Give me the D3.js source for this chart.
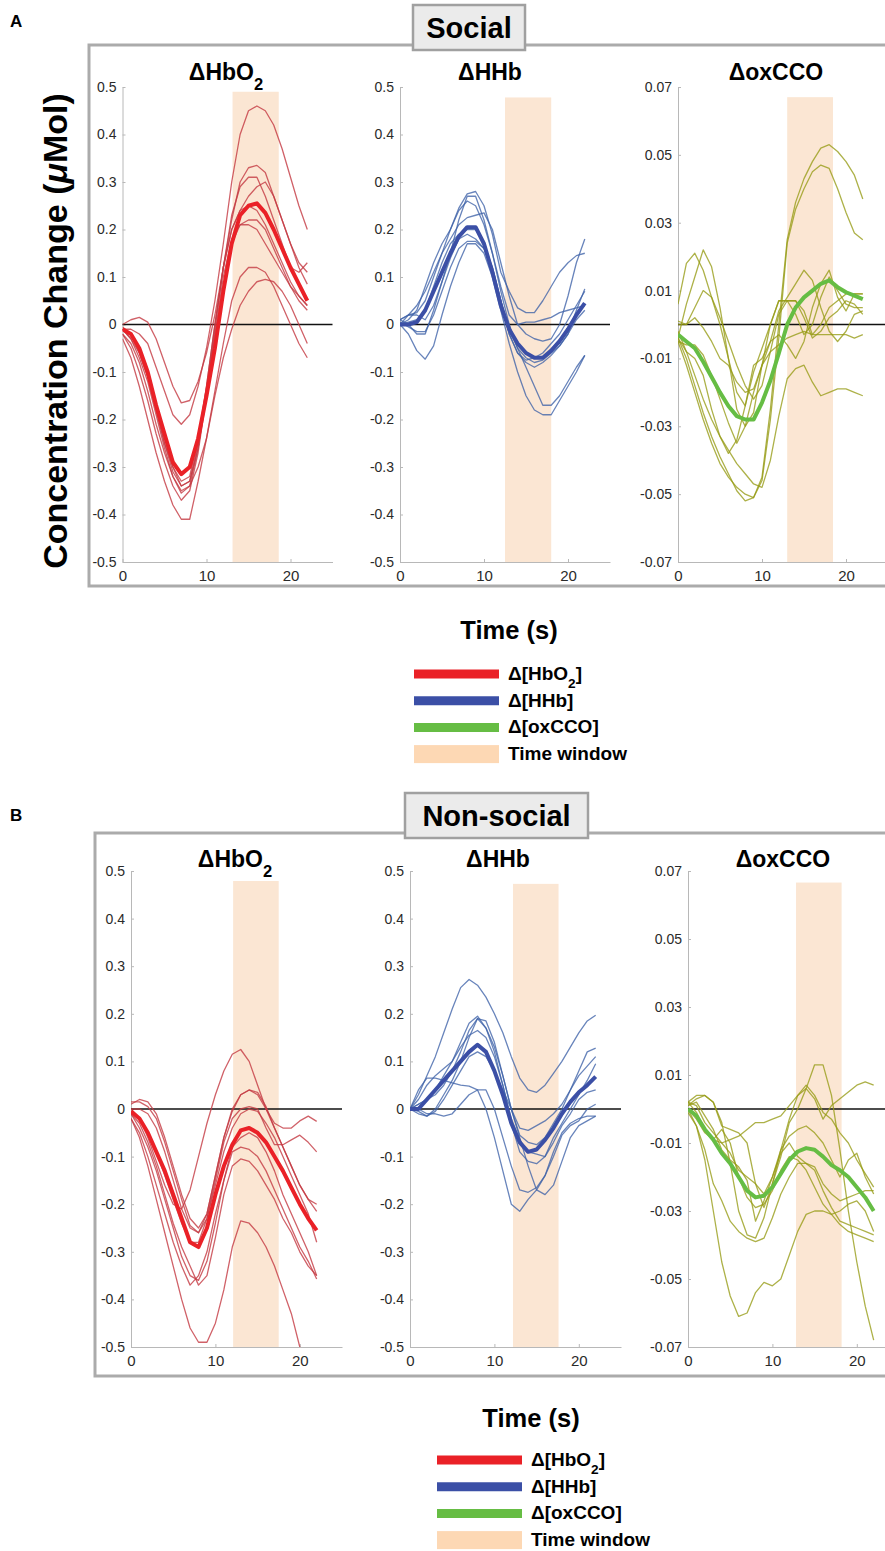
<!DOCTYPE html>
<html>
<head>
<meta charset="utf-8">
<script src="https://cdn.jsdelivr.net/npm/d3@7"></script>
<style>
  body { margin: 0; background: #fff; }
  svg { display: block; font-family: "Liberation Sans", Arial, Helvetica, sans-serif; }
</style>
</head>
<body>
<div id="chart"></div>
<script>
// sample times (s)
const timeSec = [0,1,2,3,4,5,6,7,8,9,10,11,12,13,14,15,16,17,18,19,20,21,22];
const hbTicks = [-0.5,-0.4,-0.3,-0.2,-0.1,0,0.1,0.2,0.3,0.4,0.5];
const ccoTicks = [-0.07,-0.05,-0.03,-0.01,0.01,0.03,0.05,0.07];
const timeTicks = [0,10,20];
const chromophores = ["HbO2", "HHb", "oxCCO"];

// analysis time windows [start, end, top]
const socialWindows = [[13.1,18.6,0.49],[12.5,18.0,0.478],[13.0,18.45,0.067]];
const nonsocialWindows = [[12.1,17.5,0.479],[12.2,17.6,0.473],[12.8,18.2,0.0666]];

// ---- Social ----
const socialHbO2Mean = [-0.01,-0.02,-0.05,-0.1,-0.17,-0.23,-0.29,-0.315,-0.3,-0.24,-0.15,-0.05,0.07,0.17,0.23,0.25,0.255,0.235,0.2,0.16,0.12,0.085,0.05];
const socialHbO2Subjects = [
  [0,0.01,0.015,0.005,-0.03,-0.08,-0.13,-0.165,-0.16,-0.12,-0.06,0.02,0.12,0.22,0.3,0.33,0.335,0.32,0.27,0.22,0.17,0.13,0.11],
  [-0.01,-0.01,-0.02,-0.04,-0.09,-0.14,-0.19,-0.21,-0.19,-0.13,-0.05,0.05,0.17,0.3,0.4,0.45,0.46,0.45,0.42,0.37,0.31,0.25,0.2],
  [-0.02,-0.04,-0.08,-0.14,-0.21,-0.27,-0.32,-0.35,-0.34,-0.26,-0.14,-0.01,0.12,0.23,0.29,0.31,0.31,0.27,0.22,0.17,0.12,0.11,0.13],
  [-0.01,-0.03,-0.06,-0.11,-0.18,-0.25,-0.31,-0.34,-0.33,-0.25,-0.13,0,0.12,0.2,0.24,0.25,0.24,0.21,0.17,0.13,0.09,0.06,0.04],
  [-0.02,-0.05,-0.1,-0.16,-0.23,-0.29,-0.34,-0.37,-0.35,-0.27,-0.15,-0.02,0.1,0.18,0.21,0.21,0.2,0.17,0.14,0.11,0.08,0.06,0.04],
  [-0.03,-0.07,-0.13,-0.2,-0.27,-0.33,-0.38,-0.41,-0.41,-0.33,-0.24,-0.14,-0.04,0.05,0.1,0.12,0.12,0.11,0.08,0.04,0,-0.04,-0.07],
  [-0.01,-0.03,-0.07,-0.12,-0.19,-0.26,-0.32,-0.355,-0.34,-0.3,-0.24,-0.15,-0.07,-0.01,0.04,0.07,0.09,0.095,0.09,0.07,0.04,0,-0.04],
  [-0.005,-0.02,-0.05,-0.1,-0.17,-0.24,-0.3,-0.33,-0.32,-0.24,-0.13,0,0.12,0.2,0.24,0.27,0.29,0.3,0.27,0.22,0.17,0.12,0.085],
  [-0.01,-0.02,-0.06,-0.11,-0.18,-0.25,-0.3,-0.34,-0.33,-0.26,-0.15,-0.03,0.08,0.17,0.21,0.22,0.22,0.2,0.16,0.12,0.08,0.05,0.03]
];
const socialHHbMean = [0,0,0.005,0.03,0.07,0.11,0.15,0.185,0.205,0.205,0.17,0.11,0.04,-0.01,-0.04,-0.06,-0.07,-0.07,-0.055,-0.035,-0.01,0.02,0.045];
const socialHHbSubjects = [
  [0.01,0.02,0.025,0.05,0.1,0.15,0.2,0.245,0.275,0.28,0.25,0.19,0.11,0.07,0.035,0.025,0.025,0.05,0.08,0.11,0.13,0.145,0.15],
  [0,0.02,0.04,0.07,0.11,0.15,0.18,0.21,0.225,0.23,0.235,0.2,0.13,0.06,0,-0.02,-0.03,-0.035,-0.03,0,0.06,0.13,0.18],
  [0.01,0,-0.02,-0.02,0.03,0.09,0.15,0.22,0.27,0.27,0.22,0.15,0.07,0,-0.05,-0.09,-0.13,-0.17,-0.17,-0.15,-0.12,-0.09,-0.065],
  [0,-0.02,-0.055,-0.073,-0.045,0.02,0.08,0.13,0.17,0.17,0.15,0.1,0.03,-0.04,-0.1,-0.15,-0.18,-0.19,-0.19,-0.16,-0.13,-0.1,-0.065],
  [0.01,0.02,0.02,0.01,0.04,0.09,0.14,0.18,0.19,0.18,0.16,0.11,0.05,-0.01,-0.05,-0.07,-0.08,-0.075,-0.06,-0.045,-0.02,0.03,0.075],
  [0,0.005,0.01,0.03,0.08,0.13,0.17,0.19,0.2,0.2,0.17,0.12,0.05,-0.02,-0.06,-0.08,-0.09,-0.08,-0.065,-0.045,-0.02,0.01,0.03],
  [0,0.01,0.03,0.08,0.13,0.17,0.2,0.24,0.26,0.25,0.21,0.15,0.08,0.02,0,0.005,0.005,0.01,0.015,0.025,0.03,0.035,0.04],
  [0.005,-0.005,-0.015,-0.015,0.02,0.07,0.12,0.16,0.175,0.175,0.16,0.12,0.05,-0.02,-0.06,-0.075,-0.07,-0.06,-0.04,-0.02,0.01,0.04,0.07]
];
const socialCCOMean = [-0.003,-0.005,-0.007,-0.011,-0.0155,-0.02,-0.024,-0.027,-0.028,-0.028,-0.023,-0.0165,-0.0085,0,0.005,0.008,0.01,0.012,0.013,0.011,0.0095,0.0085,0.0075];
const socialCCOSubjects = [
  [-0.004,-0.01,-0.018,-0.026,-0.033,-0.039,-0.044,-0.049,-0.052,-0.051,-0.045,-0.025,0,0.025,0.036,0.043,0.048,0.052,0.053,0.051,0.048,0.044,0.037],
  [-0.005,-0.012,-0.02,-0.028,-0.035,-0.041,-0.045,-0.048,-0.05,-0.051,-0.046,-0.028,-0.004,0.024,0.034,0.04,0.045,0.047,0.046,0.04,0.033,0.027,0.025],
  [0.006,0.018,0.021,0.016,0.008,0.002,-0.005,-0.012,-0.018,-0.022,-0.018,-0.008,0.003,0.007,0.007,0.004,-0.003,0,0.005,0.007,0.009,0.009,0.009],
  [-0.002,-0.008,-0.015,-0.022,-0.028,-0.033,-0.037,-0.041,-0.044,-0.047,-0.048,-0.04,-0.027,-0.016,-0.013,-0.012,-0.017,-0.021,-0.02,-0.019,-0.019,-0.02,-0.021],
  [-0.004,0.006,0.014,0.022,0.017,0.005,-0.01,-0.025,-0.03,-0.026,-0.012,0,0.007,0.007,0.003,-0.003,0,0.008,0.014,0.01,0.006,0.005,0.005],
  [-0.005,-0.006,-0.006,-0.009,-0.015,-0.022,-0.029,-0.035,-0.03,-0.02,-0.012,-0.005,0.004,0.008,0.012,0.016,0.013,0.005,-0.002,-0.005,-0.002,0.003,0.004],
  [0,0,0.002,-0.001,-0.005,-0.01,-0.012,-0.017,-0.02,-0.019,-0.012,-0.008,-0.006,-0.004,-0.003,-0.002,-0.003,-0.003,-0.003,-0.003,-0.003,-0.004,-0.003],
  [-0.004,-0.008,-0.01,-0.015,-0.025,-0.033,-0.038,-0.034,-0.024,-0.012,-0.01,-0.005,-0.003,-0.006,-0.01,-0.005,0.005,0.012,0.016,0.008,0.004,0.009,0.009],
  [0.001,0,0.005,0.01,0.008,0,-0.01,-0.02,-0.024,-0.014,-0.007,0,0.007,0.007,0.007,0.002,-0.004,-0.002,0.002,0.004,0.007,0.006,0.003]
];

// ---- Non-social ----
const nonsocialHbO2Mean = [-0.005,-0.02,-0.05,-0.09,-0.13,-0.18,-0.23,-0.28,-0.29,-0.25,-0.18,-0.12,-0.075,-0.045,-0.04,-0.05,-0.07,-0.1,-0.13,-0.165,-0.2,-0.23,-0.255];
const nonsocialHbO2Subjects = [
  [0,-0.02,-0.06,-0.11,-0.16,-0.2,-0.21,-0.17,-0.1,-0.03,0.03,0.08,0.115,0.125,0.1,0.05,0,-0.03,-0.04,-0.04,-0.025,-0.015,-0.026],
  [0.01,0.02,0.015,-0.01,-0.06,-0.12,-0.18,-0.23,-0.25,-0.22,-0.14,-0.06,0,0.03,0.04,0.035,0.005,-0.04,-0.08,-0.12,-0.16,-0.19,-0.2],
  [0.015,0.015,0.005,-0.02,-0.07,-0.13,-0.19,-0.245,-0.26,-0.22,-0.14,-0.06,-0.005,0.03,0.04,0.03,0,-0.04,-0.08,-0.12,-0.16,-0.19,-0.215],
  [0,0,-0.01,-0.04,-0.09,-0.15,-0.21,-0.25,-0.26,-0.23,-0.15,-0.07,-0.02,0,0.005,0,-0.04,-0.075,-0.075,-0.065,-0.055,-0.07,-0.09],
  [-0.01,-0.04,-0.08,-0.13,-0.19,-0.25,-0.31,-0.35,-0.36,-0.32,-0.24,-0.15,-0.08,-0.06,-0.05,-0.06,-0.09,-0.13,-0.18,-0.22,-0.26,-0.3,-0.35],
  [-0.02,-0.05,-0.1,-0.16,-0.22,-0.28,-0.33,-0.37,-0.35,-0.3,-0.22,-0.15,-0.09,-0.08,-0.085,-0.1,-0.13,-0.17,-0.21,-0.25,-0.29,-0.32,-0.357],
  [-0.02,-0.06,-0.12,-0.19,-0.26,-0.33,-0.4,-0.46,-0.49,-0.49,-0.45,-0.38,-0.29,-0.235,-0.24,-0.26,-0.29,-0.33,-0.38,-0.43,-0.5,null,null],
  [-0.01,-0.03,-0.07,-0.12,-0.18,-0.24,-0.29,-0.33,-0.37,-0.35,-0.27,-0.18,-0.12,-0.105,-0.11,-0.13,-0.16,-0.19,-0.23,-0.26,-0.3,-0.33,-0.35],
  [-0.005,-0.02,-0.05,-0.09,-0.14,-0.19,-0.24,-0.28,-0.28,-0.23,-0.16,-0.09,-0.04,-0.01,0,-0.005,-0.03,-0.06,-0.1,-0.14,-0.18,-0.22,-0.28]
];
const nonsocialHHbMean = [0,0,0.02,0.04,0.06,0.08,0.1,0.12,0.135,0.12,0.08,0.03,-0.03,-0.07,-0.09,-0.085,-0.065,-0.04,-0.01,0.015,0.035,0.05,0.068];
const nonsocialHHbSubjects = [
  [0,0.03,0.07,0.11,0.16,0.21,0.255,0.272,0.26,0.235,0.2,0.16,0.11,0.065,0.04,0.035,0.05,0.075,0.1,0.13,0.16,0.185,0.197],
  [0,-0.005,-0.015,0,0.03,0.06,0.1,0.15,0.19,0.185,0.14,0.07,0,-0.04,-0.045,-0.035,-0.025,-0.01,0.01,0.04,0.07,0.09,0.11],
  [0,0.01,0.02,0.03,0.05,0.08,0.12,0.165,0.19,0.17,0.13,0.07,0,-0.055,-0.07,-0.075,-0.06,-0.03,0,0.04,0.08,0.12,0.128],
  [0,0.04,0.065,0.065,0.06,0.055,0.05,0.048,0.04,0,-0.06,-0.13,-0.2,-0.215,-0.19,-0.17,-0.14,-0.09,-0.05,-0.03,-0.02,-0.015,-0.015],
  [0,-0.01,-0.015,-0.005,0.02,0.05,0.08,0.11,0.12,0.11,0.08,0.04,0,-0.06,-0.12,-0.17,-0.18,-0.16,-0.11,-0.06,-0.035,-0.025,-0.015],
  [0,0,-0.01,-0.01,-0.015,-0.01,0.01,0.03,0.04,0.04,0,-0.06,-0.12,-0.17,-0.175,-0.165,-0.14,-0.1,-0.055,-0.035,-0.025,0,0.01],
  [0,0.02,0.05,0.07,0.085,0.1,0.13,0.155,0.165,0.15,0.11,0.05,-0.02,-0.065,-0.09,-0.095,-0.1,-0.06,-0.03,0,0.03,0.06,0.095],
  [0,0.01,0.02,0.04,0.07,0.1,0.14,0.18,0.195,0.17,0.12,0.05,-0.03,-0.09,-0.11,-0.115,-0.1,-0.07,-0.035,-0.01,0.02,0.035,0.04]
];
const nonsocialCCOMean = [0,-0.002,-0.006,-0.009,-0.013,-0.016,-0.02,-0.024,-0.026,-0.0255,-0.023,-0.019,-0.015,-0.0125,-0.0115,-0.012,-0.014,-0.0165,-0.018,-0.02,-0.023,-0.026,-0.03];
const nonsocialCCOSubjects = [
  [0,-0.005,-0.015,-0.03,-0.045,-0.055,-0.061,-0.06,-0.054,-0.051,-0.052,-0.05,-0.043,-0.036,-0.031,-0.03,-0.03,-0.031,-0.034,-0.036,-0.037,-0.038,-0.039],
  [0.001,0.003,0.004,0.002,-0.004,-0.016,-0.03,-0.037,-0.038,-0.032,-0.022,-0.014,-0.004,0,0.006,0.013,0.013,0.004,-0.012,-0.03,-0.045,-0.058,-0.068],
  [0.002,0.004,0.004,0.002,-0.005,-0.006,-0.007,-0.01,-0.022,-0.029,-0.022,-0.012,-0.003,0.004,0.007,0.004,-0.001,-0.003,-0.007,-0.01,-0.015,-0.019,-0.023],
  [0.002,-0.001,-0.006,-0.009,-0.01,-0.009,-0.008,-0.006,-0.004,-0.004,-0.003,-0.002,0.001,0.004,0.006,0.003,-0.003,0.001,0.003,0.005,0.007,0.008,0.007],
  [0.001,0.002,-0.002,-0.006,-0.012,-0.015,-0.017,-0.021,-0.033,-0.027,-0.02,-0.012,-0.008,-0.006,-0.005,-0.007,-0.01,-0.015,-0.02,-0.015,-0.013,-0.02,-0.025],
  [0,-0.003,-0.007,-0.009,-0.006,-0.01,-0.02,-0.026,-0.029,-0.028,-0.024,-0.018,-0.014,-0.015,-0.018,-0.023,-0.028,-0.031,-0.03,-0.028,-0.027,-0.03,-0.036],
  [-0.001,-0.005,-0.012,-0.022,-0.027,-0.033,-0.036,-0.038,-0.039,-0.038,-0.032,-0.025,-0.02,-0.016,-0.016,-0.018,-0.024,-0.029,-0.033,-0.034,-0.035,-0.036,-0.037],
  [0.002,0.001,-0.004,-0.007,-0.01,-0.013,-0.018,-0.02,-0.022,-0.025,-0.02,-0.013,-0.01,-0.014,-0.016,-0.017,-0.022,-0.025,-0.027,-0.026,-0.025,-0.024,-0.024]
];

const meanColors = ["#ea2127", "#3b4fa6", "#66bd44"];
const thinColors = ["rgba(196,58,66,0.8)", "rgba(62,98,168,0.78)", "rgba(150,155,20,0.78)"];
const windowFill = "#fbe6d3";

const width = 885, height = 1551;
const svg = d3.select("#chart").append("svg")
  .attr("width", width)
  .attr("height", height);

const panels = [
  {
    label: "A", name: "Social", labelY: 27,
    frame: {x: 89, y: 45, bottom: 586},
    box: {x: 413, y: 5, w: 112, h: 45},
    top: 87, bottom: 562, x0: [122.5, 400, 678], plotW: 210,
    titleX: [226, 490, 776], titleY: 80,
    windows: socialWindows,
    means: [socialHbO2Mean, socialHHbMean, socialCCOMean],
    subjects: [socialHbO2Subjects, socialHHbSubjects, socialCCOSubjects],
    timeLabel: {x: 509, y: 639},
    legend: {x: 414, y: 674}
  },
  {
    label: "B", name: "Non-social", labelY: 821,
    frame: {x: 95, y: 833, bottom: 1376},
    box: {x: 405, y: 793, w: 183, h: 45},
    top: 871, bottom: 1347, x0: [131, 410, 688], plotW: 211,
    titleX: [235, 498, 783], titleY: 867,
    windows: nonsocialWindows,
    means: [nonsocialHbO2Mean, nonsocialHHbMean, nonsocialCCOMean],
    subjects: [nonsocialHbO2Subjects, nonsocialHHbSubjects, nonsocialCCOSubjects],
    timeLabel: {x: 531, y: 1427},
    legend: {x: 437, y: 1460}
  }
];

function addChromLabel(textSel, chrom, prefix, suffix) {
  // adds e.g. ΔHbO₂ with a real subscript
  if (chrom === "HbO2") {
    textSel.append("tspan").text(prefix + "HbO");
    textSel.append("tspan").attr("baseline-shift", "sub").attr("font-size", "0.72em").text("2");
    textSel.append("tspan").text(suffix);
  } else {
    textSel.append("tspan").text(prefix + chrom + suffix);
  }
}

panels.forEach((p, pi) => {
  const g = svg.append("g");

  // outer frame
  g.append("path")
    .attr("d", `M${width + 10},${p.frame.y}H${p.frame.x}V${p.frame.bottom}H${width + 10}`)
    .attr("fill", "none")
    .attr("stroke", "#ababab")
    .attr("stroke-width", 3);

  g.append("text")
    .attr("x", 10).attr("y", p.labelY)
    .attr("font-size", 17).attr("font-weight", "bold")
    .text(p.label);

  for (let k = 0; k < 3; k++) {
    const isCCO = k === 2;
    const x = d3.scaleLinear().domain([0, 25]).range([p.x0[k], p.x0[k] + p.plotW]);
    const y = d3.scaleLinear().domain(isCCO ? [-0.07, 0.07] : [-0.5, 0.5]).range([p.bottom, p.top]);
    const sub = g.append("g");

    const clipId = `clip-${pi}-${k}`;
    sub.append("clipPath").attr("id", clipId)
      .append("rect")
      .attr("x", x(0)).attr("y", y.range()[1])
      .attr("width", x(25) - x(0)).attr("height", y.range()[0] - y.range()[1]);

    // time window
    const w = p.windows[k];
    sub.append("rect")
      .attr("x", x(w[0]))
      .attr("y", y(w[2]))
      .attr("width", x(w[1]) - x(w[0]))
      .attr("height", y(y.domain()[0]) - y(w[2]))
      .attr("fill", windowFill);

    // axes
    const yAxis = d3.axisLeft(y)
      .tickValues(isCCO ? ccoTicks : hbTicks)
      .tickSizeInner(-3).tickSizeOuter(0).tickPadding(6)
      .tickFormat(d => d === 0 ? "0" : String(d));
    const xAxis = d3.axisBottom(x)
      .tickValues(timeTicks)
      .tickSizeInner(-3).tickSizeOuter(0).tickPadding(8);

    const ya = sub.append("g").attr("transform", `translate(${x(0)},0)`).call(yAxis);
    const xa = sub.append("g").attr("transform", `translate(0,${y.range()[0]})`).call(xAxis);
    [ya, xa].forEach(a => {
      a.select(".domain").attr("stroke", "#b8b8b8");
      a.selectAll(".tick line").attr("stroke", "#b8b8b8");
      a.selectAll("text").attr("fill", "#2a2a2a").attr("font-size", 14)
        .attr("font-family", "'Liberation Sans', Arial, sans-serif");
    });
    xa.selectAll("text").attr("font-size", 15);

    // zero line
    sub.append("line")
      .attr("x1", x(0)).attr("x2", x(25))
      .attr("y1", y(0)).attr("y2", y(0))
      .attr("stroke", "#111").attr("stroke-width", 1.6);

    const line = d3.line()
      .defined(d => d != null)
      .x((d, i) => x(timeSec[i]))
      .y(d => y(d));

    const lines = sub.append("g").attr("clip-path", `url(#${clipId})`);
    lines.selectAll("path.subject")
      .data(p.subjects[k])
      .join("path")
      .attr("class", "subject")
      .attr("d", line)
      .attr("fill", "none")
      .attr("stroke", thinColors[k])
      .attr("stroke-width", 1.3)
      .attr("stroke-linejoin", "round");

    lines.append("path")
      .attr("d", line(p.means[k]))
      .attr("fill", "none")
      .attr("stroke", meanColors[k])
      .attr("stroke-width", 4)
      .attr("stroke-linejoin", "round");

    // subplot title
    const t = sub.append("text")
      .attr("x", p.titleX[k]).attr("y", p.titleY)
      .attr("text-anchor", "middle")
      .attr("font-size", 23).attr("font-weight", "bold");
    addChromLabel(t, chromophores[k], "\u0394", "");
  }

  // condition label box
  g.append("rect")
    .attr("x", p.box.x).attr("y", p.box.y)
    .attr("width", p.box.w).attr("height", p.box.h)
    .attr("fill", "#ebebeb")
    .attr("stroke", "#a0a0a0").attr("stroke-width", 2.5);
  g.append("text")
    .attr("x", p.box.x + p.box.w / 2).attr("y", p.box.y + p.box.h / 2 + 10)
    .attr("text-anchor", "middle")
    .attr("font-size", 29).attr("font-weight", "bold")
    .text(p.name);

  // x label
  g.append("text")
    .attr("x", p.timeLabel.x).attr("y", p.timeLabel.y)
    .attr("text-anchor", "middle")
    .attr("font-size", 25.5).attr("font-weight", "bold")
    .text("Time (s)");

  // legend
  const lg = g.append("g").attr("transform", `translate(${p.legend.x},${p.legend.y})`);
  const legendRows = [0, 1, 2, 3];
  legendRows.forEach(r => {
    const ry = r * 26.7;
    if (r < 3) {
      lg.append("line")
        .attr("x1", 0).attr("x2", 85).attr("y1", ry).attr("y2", ry)
        .attr("stroke", meanColors[r]).attr("stroke-width", 9);
    } else {
      lg.append("rect")
        .attr("x", 0).attr("y", ry - 9).attr("width", 85).attr("height", 18)
        .attr("fill", "#fdd8b4");
    }
    const lt = lg.append("text")
      .attr("x", 94).attr("y", ry + 6)
      .attr("font-size", 19).attr("font-weight", "bold");
    if (r < 3) addChromLabel(lt, chromophores[r], "\u0394[", "]");
    else lt.text("Time window");
  });
});

// shared y label
const yl = svg.append("text")
  .attr("transform", "translate(67,331) rotate(-90)")
  .attr("text-anchor", "middle")
  .attr("font-size", 34).attr("font-weight", "bold");
yl.append("tspan").text("Concentration Change (");
yl.append("tspan").attr("font-style", "italic").text("\u03bc");
yl.append("tspan").text("Mol)");
</script>
</body>
</html>
